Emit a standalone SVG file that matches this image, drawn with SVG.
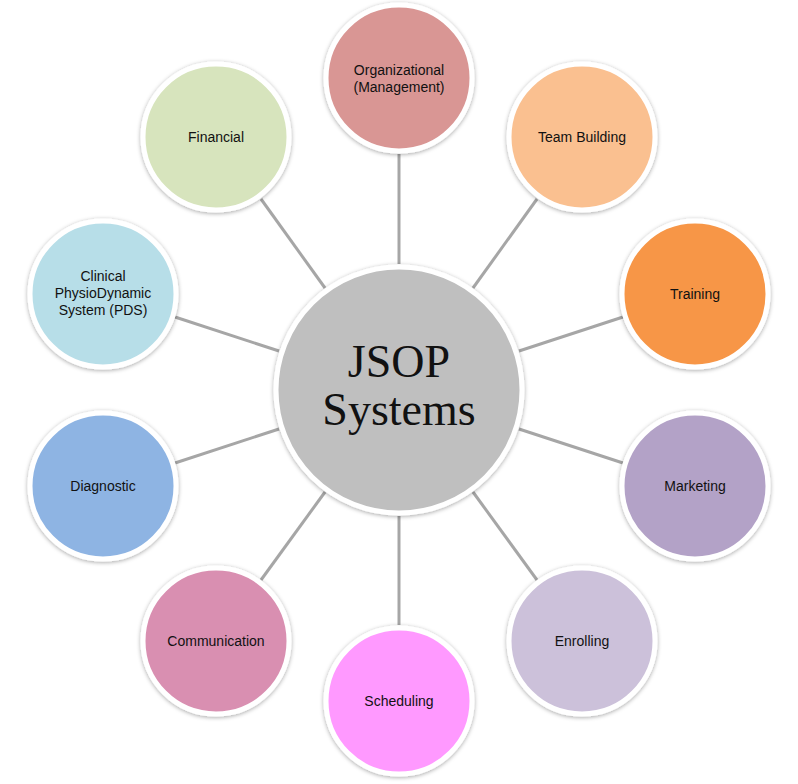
<svg xmlns="http://www.w3.org/2000/svg" width="798" height="784" viewBox="0 0 798 784">
<defs>
<filter id="sh" x="-20%" y="-20%" width="140%" height="140%"><feDropShadow dx="0" dy="1" stdDeviation="2" flood-color="#000" flood-opacity="0.35"/></filter>
<style>
.n{stroke:#fff;stroke-width:5;filter:url(#sh)}
.t{font-family:"Liberation Sans",Arial,sans-serif;font-size:14px;fill:#111;text-anchor:middle}
.c line{stroke:#A6A6A6;stroke-width:3}
</style>
</defs>
<rect width="798" height="784" fill="#fff"/>
<g class="c" id="connectors">
<line x1="399" y1="264" x2="399" y2="154"/>
<line x1="473" y1="288" x2="537" y2="199"/>
<line x1="519" y1="351" x2="623" y2="317"/>
<line x1="519" y1="429" x2="623" y2="463"/>
<line x1="473" y1="492" x2="537" y2="580"/>
<line x1="399" y1="516" x2="399" y2="625"/>
<line x1="325" y1="492" x2="261" y2="580"/>
<line x1="279" y1="429" x2="175" y2="463"/>
<line x1="279" y1="351" x2="175" y2="317"/>
<line x1="325" y1="288" x2="261" y2="199"/>
</g>
<g id="center"><circle class="n" cx="399" cy="390" r="123" fill="#BFBFBF"/>
<text x="399" y="377" font-family="Liberation Serif,serif" font-size="46" text-anchor="middle" fill="#111">JSOP</text>
<text x="399" y="425" font-family="Liberation Serif,serif" font-size="46" text-anchor="middle" fill="#111">Systems</text></g>
<g id="org"><circle class="n" cx="399" cy="78" r="73" fill="#D99694"/><text class="t" x="399" y="75">Organizational</text><text class="t" x="399" y="92">(Management)</text></g>
<g id="team"><circle class="n" cx="582" cy="137" r="73" fill="#FAC090"/><text class="t" x="582" y="142">Team Building</text></g>
<g id="training"><circle class="n" cx="695" cy="294" r="73" fill="#F79646"/><text class="t" x="695" y="299">Training</text></g>
<g id="marketing"><circle class="n" cx="695" cy="486" r="73" fill="#B3A2C7"/><text class="t" x="695" y="491">Marketing</text></g>
<g id="enrolling"><circle class="n" cx="582" cy="641" r="73" fill="#CCC1DA"/><text class="t" x="582" y="646">Enrolling</text></g>
<g id="scheduling"><circle class="n" cx="399" cy="701" r="73" fill="#FF99FF"/><text class="t" x="399" y="706">Scheduling</text></g>
<g id="communication"><circle class="n" cx="216" cy="641" r="73" fill="#D98FB1"/><text class="t" x="216" y="646">Communication</text></g>
<g id="diagnostic"><circle class="n" cx="103" cy="486" r="73" fill="#8EB4E3"/><text class="t" x="103" y="491">Diagnostic</text></g>
<g id="clinical"><circle class="n" cx="103" cy="294" r="73" fill="#B7DEE8"/><text class="t" x="103" y="281">Clinical</text><text class="t" x="103" y="298">PhysioDynamic</text><text class="t" x="103" y="315">System (PDS)</text></g>
<g id="financial"><circle class="n" cx="216" cy="137" r="73" fill="#D7E4BD"/><text class="t" x="216" y="142">Financial</text></g>
</svg>
